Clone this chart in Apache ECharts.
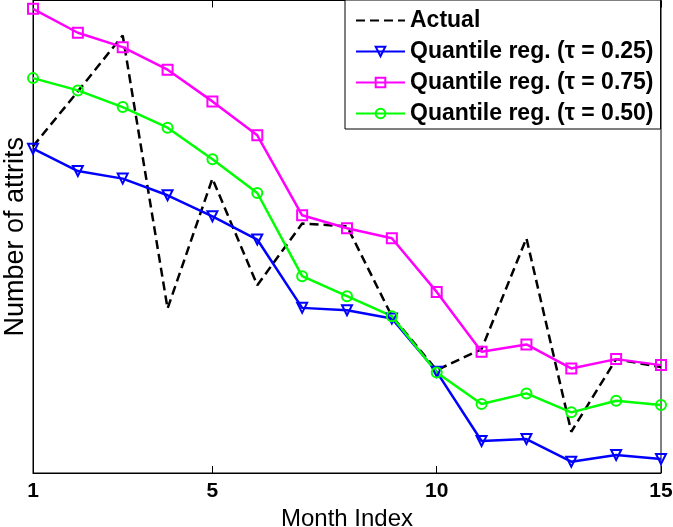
<!DOCTYPE html>
<html>
<head>
<meta charset="utf-8">
<script src="https://cdn.jsdelivr.net/npm/echarts@6/dist/echarts.min.js"></script>
<style>
html,body{margin:0;padding:0;background:#fff;}
#c{width:673px;height:527px;}
</style>
</head>
<body>
<div id="c"></div>
<script>
const months = [1,2,3,4,5,6,7,8,9,10,11,12,13,14,15];
const xTicks = [1,5,10,15];
const actual = [327, 382, 438, 164.7, 294.7, 188, 249.7, 247, 157, 103, 124, 235, 41.3, 114, 106];
const q25 = [324.7, 302.3, 294.7, 278, 257, 233.7, 165.3, 163, 154.7, 101.3, 32, 34, 11.3, 18, 14];
const q75 = [464.7, 440.7, 426.3, 403.7, 372, 338, 258, 245, 235, 181.3, 121.3, 128.7, 104.7, 114, 108];
const q50 = [395.3, 383, 366.3, 345.7, 314, 280.3, 197, 177, 157, 100.7, 69, 79.7, 60.7, 72.3, 68];
const names = ['Actual', 'Quantile reg. (\u03c4 = 0.25)', 'Quantile reg. (\u03c4 = 0.75)', 'Quantile reg. (\u03c4 = 0.50)'];

const pair = arr => months.map((m, i) => [m, arr[i]]);
const FONT = '"Liberation Sans", Arial, Helvetica, sans-serif';
const tri = 'path://M0,0L10,0L5,9Z';

const chart = echarts.init(document.getElementById('c'));
function mk(name, data, color, symbol) {
  return {
    name, type: 'line', data: pair(data),
    symbol: symbol, symbolSize: 10, showSymbol: true,
    lineStyle: {color, width: 2.5},
    itemStyle: {color: 'rgba(0,0,0,0)', borderColor: color, borderWidth: 2},
    emphasis: {disabled: true}, animation: false, z: 3
  };
}
chart.setOption({
  animation: false,
  backgroundColor: '#fff',
  grid: {left: 33, right: 12, top: 0.5, bottom: 54, outerBoundsMode: 'none', containLabel: false,
         show: true, borderColor: '#000', borderWidth: 1, backgroundColor: 'transparent'},
  xAxis: [{
    type: 'value', min: 1, max: 15, position: 'bottom',
    name: 'Month Index', nameLocation: 'middle', nameGap: 30,
    nameTextStyle: {fontFamily: FONT, fontSize: 24, color: '#000'},
    axisLine: {show: true, lineStyle: {color: '#000', width: 1}},
    axisTick: {show: true, inside: true, length: 7, customValues: xTicks, lineStyle: {color: '#000'}},
    axisLabel: {show: true, customValues: xTicks, fontFamily: FONT, fontWeight: 'bold', fontSize: 21, color: '#000', margin: 8},
    splitLine: {show: false}
  }, {
    type: 'value', min: 1, max: 15, position: 'top',
    axisLine: {show: true, lineStyle: {color: '#000', width: 1}},
    axisTick: {show: true, inside: true, length: 7, customValues: xTicks, lineStyle: {color: '#000'}},
    axisLabel: {show: false},
    splitLine: {show: false}
  }],
  yAxis: {
    type: 'value', min: 0, max: 473,
    name: 'Number of attrits', nameLocation: 'middle', nameGap: 4,
    nameTextStyle: {fontFamily: FONT, fontSize: 27, color: '#000'},
    axisLine: {show: true, lineStyle: {color: '#000'}},
    axisTick: {show: false}, axisLabel: {show: false}, splitLine: {show: false}
  },
  legend: {
    orient: 'vertical', left: 345, top: 0,
    data: names,
    itemWidth: 49, itemHeight: 12, itemGap: 8, itemTextGap: 5,
    padding: [9, 7, 4, 10],
    backgroundColor: '#fff', borderColor: '#000', borderWidth: 1,
    textStyle: {fontFamily: FONT, fontWeight: 'bold', fontSize: 23, lineHeight: 22, color: '#000'},
    selectedMode: false, z: 10
  },
  series: [
    {
      name: names[0], type: 'line', data: pair(actual),
      symbol: 'none', showSymbol: false,
      lineStyle: {color: '#000', width: 2.5, type: [9, 5]},
      itemStyle: {color: 'rgba(0,0,0,0)', borderColor: 'rgba(0,0,0,0)'},
      emphasis: {disabled: true}, z: 2
    },
    mk(names[1], q25, '#0000ff', tri),
    mk(names[2], q75, '#ff00ff', 'rect'),
    mk(names[3], q50, '#00ff00', 'circle')
  ]
});
</script>
</body>
</html>
